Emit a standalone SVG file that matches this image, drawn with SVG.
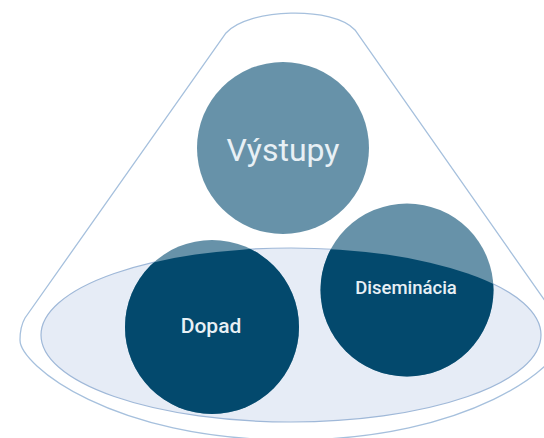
<svg xmlns="http://www.w3.org/2000/svg" width="544" height="438" viewBox="0 0 544 438">
  <style>
    .outline { fill: none; stroke: #a6c0dd; stroke-width: 1.3; }
    .base { fill: #e6ecf6; stroke: #9fb8d8; stroke-width: 1.2; }
    .light { fill: #6792a9; }
    .dark { fill: #03496d; }
    .label { font-family: Roboto, "Liberation Sans", sans-serif; fill: #e8f0f5; text-anchor: middle; }
  </style>
  <defs>
    <clipPath id="baseClip">
      <ellipse cx="291" cy="335" rx="250" ry="87"/>
    </clipPath>
  </defs>
  <rect width="544" height="438" fill="#ffffff"/>
  <g id="cone">
    <path class="outline" d="M 226,33 C 248,8 334,6 355,30 L 557,318 C 561,325 562,332 562,340 C 562,365 470,440 291,440 C 112,440 20,365 20,340 C 20,332 21,325 25,318 Z"/>
  </g>
  <g id="base">
    <ellipse class="base" cx="291" cy="335" rx="250" ry="87"/>
  </g>
  <g id="vystupy">
    <circle class="light" cx="283" cy="148" r="86"/>
    <text class="label" x="283" y="161" font-size="32">Výstupy</text>
  </g>
  <g id="dopad">
    <circle class="light" cx="212" cy="327" r="87"/>
    <circle class="dark" cx="212" cy="327" r="87" clip-path="url(#baseClip)"/>
    <text class="label" x="211" y="333" font-size="21" font-weight="500">Dopad</text>
  </g>
  <g id="diseminacia">
    <circle class="light" cx="407" cy="290" r="86.5"/>
    <circle class="dark" cx="407" cy="290" r="86.5" clip-path="url(#baseClip)"/>
    <text class="label" x="406" y="294" font-size="18.5" font-weight="500">Diseminácia</text>
  </g>
  <g id="connectors"/>
</svg>
